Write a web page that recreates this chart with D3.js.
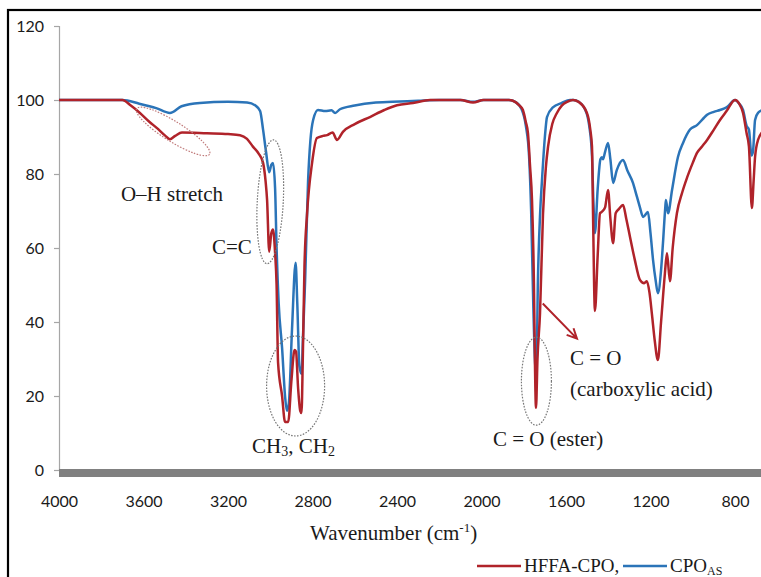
<!DOCTYPE html>
<html>
<head>
<meta charset="utf-8">
<script src="https://cdn.jsdelivr.net/npm/d3@7"></script>
<style>
  body { margin: 0; background: #fff; }
  svg { display: block; }
  .tick text { font-family: Lato, "Liberation Sans", sans-serif; font-size: 16px; fill: #1a1a1a; }
  .lbl { font-family: "Liberation Serif", "Times New Roman", serif; font-size: 21px; fill: #1a1a1a; }
  .leg { font-family: "Liberation Serif", "Times New Roman", serif; font-size: 19px; fill: #1a1a1a; }
</style>
</head>
<body>
<svg id="chart" width="761" height="577"></svg>
<script>
// wavenumber (cm-1), transmittance (%)
const cpoAS = [
  [4000,100],[3700,100],[3620,99],[3540,97.8],[3475,96.5],[3420,98.3],[3333,99.2],[3200,99.5],
  [3110,99.3],[3070,98.5],[3048,97],[3034,92],[3020,86],[3005,80.5],[2995,82.5],[2987,83],
  [2977,76],[2970,60],[2960,45],[2944,33],[2930,20],[2921,16],[2912,18],[2897,38],[2880,56],
  [2872,45],[2862,28],[2852,26],[2845,36],[2835,51],[2821,78],[2810,89],[2797,94.6],[2774,97.3],
  [2740,97],[2710,97.2],[2693,96.5],[2670,97.5],[2600,98.5],[2500,99.3],[2386,99.6],[2300,99.8],
  [2200,100],[2100,100],[2040,99.5],[1990,100],[1870,100],[1840,99.5],[1810,97.5],[1790,93],
  [1775,85],[1765,70],[1755,45],[1745,28],[1740,27],[1733,51],[1722,70],[1714,78],[1700,90],
  [1690,95.4],[1662,98],[1620,99.2],[1581,100],[1565,100],[1540,99.5],[1510,97.5],[1490,93],
  [1477,85],[1470,72],[1463,64],[1450,76],[1437,84],[1430,84.5],[1425,84],[1415,86],[1401,88.4],
  [1390,84],[1377,77.6],[1360,81],[1330,83.8],[1310,81],[1283,77.6],[1265,74],[1250,71],
  [1235,68.4],[1212,69.7],[1200,64],[1188,56.8],[1175,51],[1165,47.8],[1150,54],[1141,61.3],
  [1130,71],[1127,73],[1117,69.4],[1098,75.7],[1070,84.6],[1046,88.4],[1013,92],[980,93.2],
  [950,95],[932,96],[900,96.8],[871,97.3],[840,98],[800,100],[780,99],[762,97.3],[745,93],
  [734,92],[722,85],[715,86],[705,94.6],[691,96.5],[660,97.5]
];

const hffaCPO = [
  [4000,100],[3700,100],[3660,98.5],[3617,96.5],[3570,94],[3536,92.4],[3500,90.5],[3475,89.4],
  [3450,90.3],[3418,91.2],[3300,91],[3200,90.8],[3143,90.5],[3110,89.5],[3082,87.4],[3055,85.5],
  [3034,83],[3022,78],[3015,73],[3005,59],[2995,64],[2987,65],[2977,58.6],[2970,50],[2963,29],
  [2944,20],[2930,13],[2915,13],[2900,24],[2885,32.4],[2878,32],[2868,22],[2858,16],[2852,15.4],
  [2846,30],[2838,55],[2826,69],[2802,83],[2779,89.7],[2750,90.3],[2731,90.5],[2705,91.2],
  [2684,89.2],[2656,91.4],[2600,93.5],[2528,95.4],[2460,97.3],[2400,98.6],[2324,99.2],[2244,100],
  [2100,100],[2040,99.3],[1990,100],[1870,100],[1851,99.8],[1820,98.5],[1804,97.3],[1790,94],
  [1780,91],[1770,82],[1761,73],[1752,51],[1748,33],[1742,16.8],[1735,30],[1723,42.4],[1709,69],
  [1695,82],[1685,87.4],[1665,93.5],[1643,96.5],[1620,98.5],[1595,99.5],[1567,100],[1540,99.5],
  [1501,96.5],[1485,92],[1477,87.4],[1472,69],[1463,43],[1450,58],[1439,69.4],[1430,69.8],
  [1415,71],[1401,75.7],[1390,68],[1377,61.3],[1365,69.4],[1350,70.5],[1330,71.6],[1315,68],
  [1297,63],[1275,57],[1250,51.4],[1230,50.5],[1217,51],[1205,48],[1193,42],[1180,35],
  [1165,29.7],[1150,40],[1132,53],[1122,58.6],[1108,51],[1095,60],[1075,69.4],[1050,75],
  [1027,79],[1000,83],[980,85.7],[955,87.5],[932,89.2],[900,92],[871,94.6],[840,97],[800,100],
  [780,99],[762,96.5],[745,91],[734,87.4],[720,70.8],[712,78],[705,84.6],[691,89.2],[660,92]
];

const xTicks = [4000, 3600, 3200, 2800, 2400, 2000, 1600, 1200, 800];
const yTicks = [0, 20, 40, 60, 80, 100, 120];

const redColor = "#b0232a";
const blueColor = "#2b74b8";

const svg = d3.select("#chart");

const x = d3.scaleLinear().domain([4000, 800]).range([59, 735]);
const y = d3.scaleLinear().domain([0, 120]).range([470, 26]);

// outer frame (runs off the right and bottom of the picture)
svg.append("rect")
    .attr("x", 8).attr("y", 10)
    .attr("width", 820).attr("height", 620)
    .attr("fill", "none")
    .attr("stroke", "#000")
    .attr("stroke-width", 2.2);

// y axis
const yAxis = svg.append("g")
    .attr("transform", "translate(59,0)")
    .call(d3.axisLeft(y).tickValues(yTicks).tickSize(5).tickPadding(10));
yAxis.select(".domain").attr("stroke", "#a6a6a6").attr("stroke-width", 1.2);
yAxis.selectAll(".tick line").attr("stroke", "#a6a6a6").attr("stroke-width", 1.2);

// thick x axis bar
svg.append("line")
    .attr("x1", x(4000)).attr("x2", 761)
    .attr("y1", y(0) + 3).attr("y2", y(0) + 3)
    .attr("stroke", "#808080")
    .attr("stroke-width", 8);

const xAxis = svg.append("g")
    .attr("transform", "translate(0,477)")
    .call(d3.axisBottom(x).tickValues(xTicks).tickSize(0).tickPadding(19).tickFormat(d3.format("d")));
xAxis.select(".domain").remove();

// spectra
const line = d3.line()
    .x(d => x(d[0]))
    .y(d => y(d[1]))
    .curve(d3.curveMonotoneX);

svg.append("path")
    .datum(cpoAS)
    .attr("d", line)
    .attr("fill", "none")
    .attr("stroke", blueColor)
    .attr("stroke-width", 2.5)
    .attr("stroke-linejoin", "round");

svg.append("path")
    .datum(hffaCPO)
    .attr("d", line)
    .attr("fill", "none")
    .attr("stroke", redColor)
    .attr("stroke-width", 2.5)
    .attr("stroke-linejoin", "round");

// dotted ellipses: centre in data units, radii in px, rotation in degrees
const ellipses = [
  { w: 3460, v: 91.5, rx: 43, ry: 10, rot: 32, color: "#c07a7a" },
  { w: 3000, v: 72.5, rx: 13, ry: 62, rot: 3, color: "#777" },
  { w: 2880, v: 22.7, rx: 29, ry: 50, rot: 0, color: "#777" },
  { w: 1740, v: 24, rx: 15, ry: 44, rot: 0, color: "#777" }
];

svg.selectAll(".ring")
    .data(ellipses)
    .enter()
    .append("ellipse")
    .attr("class", "ring")
    .attr("cx", 0).attr("cy", 0)
    .attr("rx", d => d.rx).attr("ry", d => d.ry)
    .attr("transform", d => `translate(${x(d.w)},${y(d.v)}) rotate(${d.rot})`)
    .attr("fill", "none")
    .attr("stroke", d => d.color)
    .attr("stroke-width", 1.2)
    .attr("stroke-dasharray", "1.6,1.4");

// arrow to carboxylic acid C=O
const arrowFrom = [1710, 45];
const arrowTo = [1548, 35.5];
const ax1 = x(arrowFrom[0]), ay1 = y(arrowFrom[1]);
const ax2 = x(arrowTo[0]), ay2 = y(arrowTo[1]);
const ang = Math.atan2(ay2 - ay1, ax2 - ax1);
const head = 11;
svg.append("path")
    .attr("d", `M${ax1},${ay1}L${ax2},${ay2}` +
        `M${ax2 - head * Math.cos(ang - 0.45)},${ay2 - head * Math.sin(ang - 0.45)}L${ax2},${ay2}` +
        `L${ax2 - head * Math.cos(ang + 0.45)},${ay2 - head * Math.sin(ang + 0.45)}`)
    .attr("fill", "none")
    .attr("stroke", redColor)
    .attr("stroke-width", 2);

// annotation labels
const labels = [
  { w: 3707, v: 72.7, parts: [["O–H stretch"]] },
  { w: 3276, v: 58.4, parts: [["C=C"]] },
  { w: 3086, v: 4.5, parts: [["CH"], ["3", "sub"], [", CH", "back"], ["2", "sub"]] },
  { w: 1946, v: 6.5, parts: [["C = O (ester)"]] },
  { w: 1581, v: 28.4, parts: [["C = O"]] },
  { w: 1581, v: 20, parts: [["(carboxylic acid)"]] }
];

function writeParts(textSel, parts, subSize) {
  parts.forEach(p => {
    const t = textSel.append("tspan").text(p[0]);
    if (p[1] === "sub") t.attr("font-size", subSize || "14px").attr("dy", 3);
    if (p[1] === "back") t.attr("dy", -3);
    if (p[1] === "sup") t.attr("font-size", "13px").attr("dy", -8);
    if (p[1] === "supEnd") t.attr("dy", 8);
  });
}

labels.forEach(l => {
  const t = svg.append("text")
      .attr("class", "lbl")
      .attr("x", x(l.w))
      .attr("y", y(l.v));
  writeParts(t, l.parts);
});

// x axis title
const title = svg.append("text")
    .attr("class", "lbl")
    .attr("x", 310)
    .attr("y", 540);
writeParts(title, [["Wavenumber (cm"], ["-1", "sup"], [")", "supEnd"]]);

// legend
const legendItems = [
  { x: 477, color: redColor, parts: [["HFFA-CPO,"]] },
  { x: 623, color: blueColor, parts: [["CPO"], ["AS", "sub"]] }
];

const legend = svg.selectAll(".legend-item")
    .data(legendItems)
    .enter()
    .append("g")
    .attr("class", "legend-item")
    .attr("transform", d => `translate(${d.x},0)`);

legend.append("line")
    .attr("x1", 0).attr("x2", 44)
    .attr("y1", 566).attr("y2", 566)
    .attr("stroke", d => d.color)
    .attr("stroke-width", 2.5);

legend.each(function (d) {
  const t = d3.select(this).append("text")
      .attr("class", "leg")
      .attr("x", 47)
      .attr("y", 572);
  writeParts(t, d.parts, "12px");
});
</script>
</body>
</html>
